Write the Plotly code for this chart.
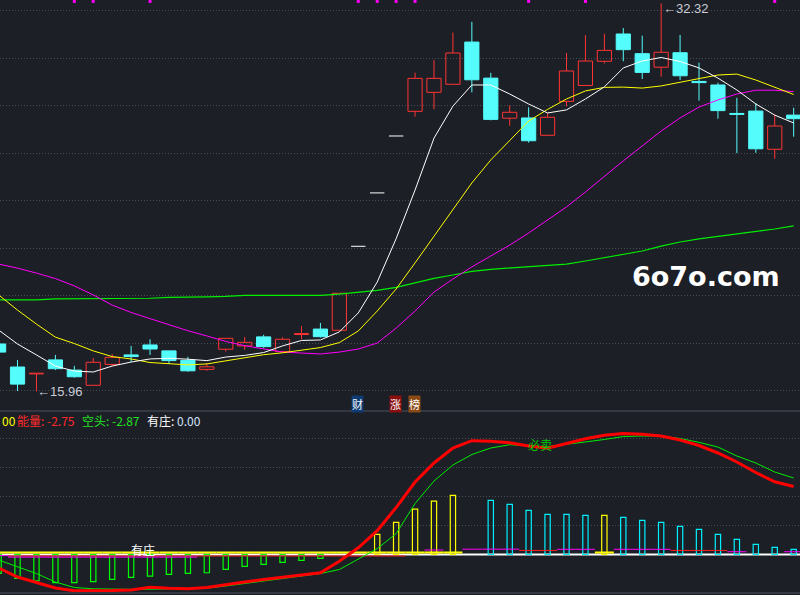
import plotly.graph_objects as go

W, H = 800, 595
BG = "#1c1f26"

# ---------------- data ----------------
opens = [17.96, 16.99, 16.70, 17.29, 16.86, 16.22, 17.10, 17.50, 17.92, 17.67,
         17.27, 16.89, 17.74, 17.88, 18.26, 17.64, 18.36, 18.59, 18.54, 22.08,
         24.33, 26.73, 27.77, 28.57, 28.91, 30.69, 29.17, 27.48, 27.49, 26.76,
         28.19, 28.86, 29.88, 31.03, 30.20, 29.63, 30.24, 29.03, 28.88, 27.68,
         27.78, 26.17, 27.61]
highs = [18.00, 17.29, 16.72, 17.50, 17.04, 17.37, 17.54, 17.88, 18.16, 17.67,
         17.42, 17.15, 18.20, 18.26, 18.35, 18.24, 18.72, 18.85, 20.10, 22.08,
         24.33, 26.73, 29.40, 29.93, 31.09, 31.54, 29.39, 28.02, 27.94, 27.71,
         30.23, 30.98, 31.04, 31.28, 30.96, 32.32, 30.99, 29.82, 28.98, 28.34,
         28.12, 27.64, 27.92]
lows = [17.55, 15.98, 15.96, 16.86, 16.54, 16.22, 17.03, 17.21, 17.50, 17.12,
        16.79, 16.83, 17.64, 17.72, 17.80, 17.64, 18.16, 18.23, 18.54, 22.08,
        24.33, 26.73, 27.54, 27.86, 28.91, 28.57, 27.39, 27.16, 26.45, 26.76,
        27.99, 28.86, 29.79, 29.88, 29.13, 29.23, 29.09, 28.22, 27.46, 26.01,
        26.02, 25.77, 26.70]
closes = [17.62, 16.27, 16.72, 16.92, 16.58, 17.19, 17.40, 17.43, 17.75, 17.26,
          16.83, 17.00, 18.20, 18.03, 17.85, 18.16, 18.40, 18.27, 20.10, 22.08,
          24.33, 26.73, 29.16, 29.16, 30.23, 29.10, 27.43, 27.73, 26.53, 27.52,
          29.47, 29.89, 30.34, 30.37, 29.41, 30.26, 29.27, 28.98, 27.80, 27.64,
          26.19, 27.15, 27.46]

ma_white = [18.55, 17.96, 17.50, 17.03, 16.82, 16.78, 17.03, 17.20, 17.33, 17.36,
            17.32, 17.26, 17.41, 17.48, 17.60, 17.88, 18.11, 18.13, 18.47, 19.27,
            20.57, 22.40, 24.45, 26.64, 27.99, 28.88, 28.88, 28.50, 28.08, 27.70,
            27.83, 28.29, 28.80, 29.60, 29.89, 30.04, 29.87, 29.60, 29.17, 28.67,
            28.08, 27.61, 27.28]
ma_yellow = [20.03, 19.39, 18.80, 18.25, 17.98, 17.67, 17.43, 17.33, 17.18, 17.12,
             17.08, 17.12, 17.24, 17.39, 17.51, 17.59, 17.71, 17.81, 18.02, 18.51,
             19.35, 20.28, 21.38, 22.51, 23.61, 24.75, 25.72, 26.56, 27.36, 27.85,
             28.29, 28.63, 28.78, 28.79, 28.75, 28.84, 29.01, 29.15, 29.30, 29.34,
             29.09, 28.77, 28.48]
ma_magenta = [21.33, 21.16, 20.95, 20.72, 20.41, 20.03, 19.60, 19.29, 19.03, 18.76,
              18.52, 18.30, 18.07, 17.89, 17.77, 17.62, 17.58, 17.54, 17.62, 17.75,
              18.00, 18.63, 19.35, 20.15, 20.70, 21.21, 21.67, 22.13, 22.64, 23.18,
              23.74, 24.37, 25.04, 25.68, 26.31, 26.94, 27.49, 27.95, 28.25, 28.50,
              28.66, 28.66, 28.60]
ma_green = [19.82, 19.82, 19.82, 19.86, 19.86, 19.86, 19.86, 19.89, 19.89, 19.93,
            19.93, 19.95, 19.97, 20.01, 20.01, 20.01, 20.01, 20.01, 20.06, 20.13,
            20.22, 20.35, 20.55, 20.73, 20.87, 21.02, 21.11, 21.16, 21.22, 21.25,
            21.33, 21.46, 21.59, 21.75, 21.88, 22.09, 22.26, 22.39, 22.49, 22.60,
            22.70, 22.81, 22.94]
signal_idx = [4, 5, 8, 19, 20, 21, 22, 28, 31, 41]

# lower panel
energy = [-2.33, -3.88, -4.83, -5.78, -6.26, -6.29, -6.22, -6.12, -5.66, -5.83,
          -5.90, -5.69, -5.17, -4.74, -4.31, -3.88, -3.45, -3.14, -1.15, 1.15,
          4.10, 8.10, 12.50, 15.78, 18.36, 19.62, 19.52, 19.28, 18.71, 18.31,
          19.14, 19.95, 20.55, 20.86, 20.74, 20.43, 19.74, 18.79, 17.50, 15.95,
          14.14, 12.53, 11.72]
bear = [-0.95, -2.07, -3.28, -4.74, -5.69, -5.91, -6.00, -6.00, -5.98, -5.95,
        -5.88, -5.81, -5.43, -5.02, -4.62, -4.19, -3.76, -3.28, -2.59, -0.78,
        1.00, 3.60, 8.79, 12.67, 15.43, 17.24, 18.36, 18.93, 18.71, 18.62,
        18.97, 19.40, 19.83, 20.34, 20.43, 20.43, 20.00, 19.34, 18.53, 16.98,
        15.78, 14.22, 13.19]
hist = [-3.24, -4.10, -4.52, -4.86, -4.86, -4.69, -4.28, -3.93, -3.71, -3.41,
        -3.24, -3.14, -2.55, -2.03, -1.69, -1.34, -1.00, -0.66, None, None,
        3.48, 5.55, 7.84, 9.20, 10.20, None, 9.34, 8.66, 7.62, 6.93,
        6.93, 6.76, 6.76, 6.41, 5.90, 5.55, 4.86, 4.34, 3.48, 2.62,
        1.76, 1.24, 0.90]
hist_yellow_idx = [20, 21, 22, 23, 24, 32]
small_yellow = [0.35, 0.35, 0.35, 0.35, 0.35, 0.35, 0.35, 0.35, 0.35, 0.35,
                0.35, 0.35, 0.35, 0.35, 0.35, 0.35, 0.35, 0.35, 0.35, 0.35,
                0.35, 0.35, 0.35, 0.35, 0.35, None, None, None, None, None,
                None, None, 0.35, None, None, None, None, None, None, None,
                None, None, None]
small_magenta = [-0.2, -0.45, -0.45, -0.45, -0.45, -0.45, -0.45, -0.45, -0.45, -0.45,
                 -0.45, None, None, None, None, None, None, None, None, None,
                 None, None, None, 0.78, None, 0.92, 0.92, 0.92, None, None,
                 0.9, 0.9, None, 0.9, 0.9, 0.9, None, None, None, 0.48,
                 None, None, 0.48]
small_red = [None, -0.25, -0.25, -0.25, -0.25, -0.25, -0.25, -0.25, -0.25, -0.25,
             -0.25, -0.25, -0.25, -0.25, -0.25, -0.25, -0.25, -0.25, -0.25, -0.25,
             -0.25, -0.25, None, None, None, None, None, None, 0.7, 0.7,
             None, None, None, None, None, None, 0.7, 0.7, 0.7, None,
             None, None, None]

header_prev = "00"
header_energy = "-2.75"
header_bear = "-2.87"
header_zhuang = "0.00"
low_label = "15.96"
high_label = "32.32"
low_idx = 2
high_idx = 35

# ---------------- geometry ----------------
SPLIT = 1 - 411 / H
X_RANGE = [0.074, 42.335]
MAIN_RANGE = [15.136, 32.463]
SUB_RANGE = [-6.98, 24.74]

RED = "#ff3434"
CYAN = "#54fcfc"

N = len(closes)
X = list(range(N))
flat = [h == l for h, l in zip(highs, lows)]
up = [i for i in X if not flat[i] and closes[i] >= opens[i]]
down = [i for i in X if not flat[i] and closes[i] < opens[i]]


def wick_xy(ids):
    xs, ys = [], []
    for i in ids:
        top = max(opens[i], closes[i])
        bot = min(opens[i], closes[i])
        if highs[i] > top:
            xs += [i, i, None]
            ys += [top, highs[i], None]
        if lows[i] < bot:
            xs += [i, i, None]
            ys += [lows[i], bot, None]
    return xs, ys


def hsegs(vals, half=0.5):
    xs, ys = [], []
    for i, v in enumerate(vals):
        if v is None:
            continue
        xs += [i - half, i + half, None]
        ys += [v, v, None]
    return xs, ys


fig = go.Figure()

# candle bodies
fig.add_trace(go.Bar(
    x=up, base=[opens[i] for i in up],
    y=[max(closes[i] - opens[i], 0.03) for i in up],
    width=0.75, marker=dict(color="rgba(0,0,0,0)", line=dict(color=RED, width=1)),
    xaxis="x", yaxis="y"))
fig.add_trace(go.Bar(
    x=down, base=[closes[i] for i in down],
    y=[max(opens[i] - closes[i], 0.03) for i in down],
    width=0.75, marker=dict(color=CYAN, line=dict(color=CYAN, width=1)),
    xaxis="x", yaxis="y"))

wx, wy = wick_xy(up)
fig.add_trace(go.Scatter(x=wx, y=wy, mode="lines", line=dict(color=RED, width=1),
                         xaxis="x", yaxis="y"))
wx, wy = wick_xy(down)
fig.add_trace(go.Scatter(x=wx, y=wy, mode="lines", line=dict(color=CYAN, width=1),
                         xaxis="x", yaxis="y"))
fx, fy = hsegs([closes[i] if flat[i] else None for i in X], half=0.38)
fig.add_trace(go.Scatter(x=fx, y=fy, mode="lines", line=dict(color="#ffffff", width=1),
                         xaxis="x", yaxis="y"))

# moving averages
for vals, col, w in [(ma_green, "#00ee00", 1.2), (ma_magenta, "#ff00ff", 1),
                     (ma_yellow, "#ffff00", 1), (ma_white, "#ffffff", 1)]:
    fig.add_trace(go.Scatter(x=X, y=vals, mode="lines", line=dict(color=col, width=w),
                             xaxis="x", yaxis="y"))

# top signal markers
fig.add_trace(go.Scatter(x=signal_idx, y=[MAIN_RANGE[1] - 0.06] * len(signal_idx),
                         mode="markers", marker=dict(symbol="square", size=3, color="#ff00ff",
                                                     line=dict(width=0)),
                         cliponaxis=False, xaxis="x", yaxis="y"))

# lower panel small lines
for vals, col, w in [(small_red, "#ff2020", 1), (small_magenta, "#ff00ff", 1),
                     (small_yellow, "#ffff00", 2)]:
    sx, sy = hsegs(vals)
    fig.add_trace(go.Scatter(x=sx, y=sy, mode="lines", line=dict(color=col, width=w),
                             xaxis="x2", yaxis="y2"))

# histogram bars
hx = [i for i in X if hist[i] is not None]
hcol = []
for i in hx:
    if hist[i] < 0:
        hcol.append("#00ff00")
    elif i in hist_yellow_idx:
        hcol.append("#ffff00")
    else:
        hcol.append("#00f0ff")
fig.add_trace(go.Bar(x=hx, y=[hist[i] for i in hx], width=0.28,
                     marker=dict(color="rgba(0,0,0,0)", line=dict(color=hcol, width=1.2)),
                     xaxis="x2", yaxis="y2"))

fig.add_trace(go.Scatter(x=X, y=bear, mode="lines", line=dict(color="#00ee00", width=1),
                         xaxis="x2", yaxis="y2"))
fig.add_trace(go.Scatter(x=X, y=energy, mode="lines", line=dict(color="#ff0000", width=3),
                         xaxis="x2", yaxis="y2"))

GRID = "#474c57"
axis_common = dict(showticklabels=False, zeroline=False, showline=False, ticks="")
fig.update_layout(
    width=W, height=H, margin=dict(l=0, r=0, t=0, b=0),
    paper_bgcolor=BG, plot_bgcolor=BG, showlegend=False, barmode="overlay",
    xaxis=dict(domain=[0, 1], range=X_RANGE, anchor="y", showgrid=False, **axis_common),
    xaxis2=dict(domain=[0, 1], range=X_RANGE, anchor="y2", matches="x", showgrid=False,
                **axis_common),
    yaxis=dict(domain=[SPLIT, 1], range=MAIN_RANGE, tickvals=list(range(16, 33, 2)),
               showgrid=True, gridcolor=GRID, griddash="1px,2px", gridwidth=1, **axis_common),
    yaxis2=dict(domain=[0, SPLIT], range=SUB_RANGE, tickvals=[5, 10, 15, 20],
                showgrid=True, gridcolor=GRID, griddash="1px,2px", gridwidth=1, **axis_common),
)

# panel separator, bottom border, zero line
fig.add_shape(type="line", xref="paper", yref="paper", x0=0, x1=1, y0=SPLIT, y1=SPLIT,
              line=dict(color="#3d424d", width=1.5))
fig.add_shape(type="line", xref="paper", yref="paper", x0=0, x1=1, y0=1 - 593 / H,
              y1=1 - 593 / H, line=dict(color="#3d424d", width=1.5))
fig.add_shape(type="line", xref="paper", yref="y2", x0=0, x1=1, y0=0, y1=0,
              line=dict(color="#ffffff", width=2), layer="between")


def ann(text, xpx, ypx, color, size=12, family="Noto Sans CJK SC", xanchor="left",
        **kw):
    fig.add_annotation(text=text, xref="paper", yref="paper", x=xpx / W, y=1 - ypx / H,
                       xanchor=xanchor, yanchor="middle", showarrow=False,
                       font=dict(color=color, size=size, family=family), **kw)


# header of lower panel
ann(header_prev, 0, 420, "#ffff00")
ann("能量: " + header_energy, 15, 420, "#ff2a2a")
ann("空头: " + header_bear, 80, 420, "#22e022")
ann("有庄:", 145, 420, "#ffffff")
ann(header_zhuang, 175, 420, "#d4e4ff")

# icons
ann("财", 357, 403.5, "#ffffff", size=11, xanchor="center", bgcolor="#0e3b73", borderpad=0)
ann("涨", 395.5, 403.5, "#ffffff", size=11, xanchor="center", bgcolor="#8a1010", borderpad=0)
ann("榜", 414.5, 403.5, "#ffffff", size=11, xanchor="center", bgcolor="#8a4a14", borderpad=0)

# watermark
ann("<b>6o7o.com</b>", 705.5, 276, "#ffffff", size=27, family="DejaVu Sans", xanchor="center")

# price labels
fig.add_annotation(text="←" + low_label, x=low_idx, y=lows[low_idx], xref="x", yref="y",
                   xanchor="left", yanchor="middle", showarrow=False, xshift=-1,
                   font=dict(color="#c8cdd6", size=13, family="Liberation Sans"))
fig.add_annotation(text="←" + high_label, x=high_idx, y=highs[high_idx], xref="x", yref="y",
                   xanchor="left", yanchor="middle", showarrow=False, yshift=-5,
                   font=dict(color="#c8cdd6", size=13, family="Liberation Sans"))

# lower panel texts
fig.add_annotation(text="必卖", x=28.6, y=18.9, xref="x2", yref="y2", showarrow=False,
                   font=dict(color="#00c800", size=12, family="Noto Sans CJK SC"))
fig.add_annotation(text="有庄", x=7.63, y=0.8, xref="x2", yref="y2", showarrow=False,
                   font=dict(color="#ffffff", size=12, family="Noto Sans CJK SC"))

fig.write_html(
    "out.html", config={"displayModeBar": False},
    post_script="document.body.style.margin='0';document.body.style.overflow='hidden';"
                "document.body.style.background='" + BG + "';")
